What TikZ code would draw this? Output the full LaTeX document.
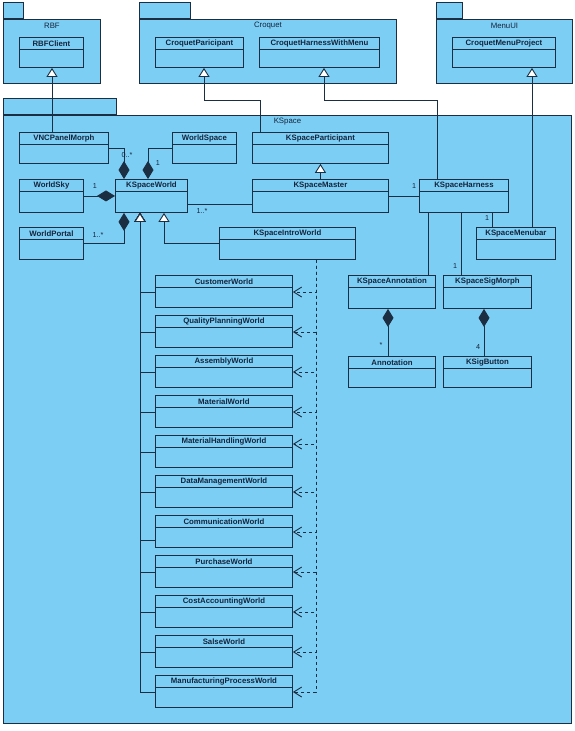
\documentclass[tikz,border=0pt]{standalone}
\usepackage{fontspec}
\setmainfont{Liberation Sans}
\usetikzlibrary{arrows.meta}
\definecolor{umlfill}{RGB}{125,206,244}
\definecolor{umlline}{RGB}{28,46,66}
\definecolor{umltext}{RGB}{20,36,60}
\tikzset{
  pkgbox/.style={draw=umlline, fill=umlfill, line width=0.9pt, inner sep=0pt, anchor=north west},
  clsbox/.style={draw=umlline, fill=umlfill, line width=0.9pt, inner sep=0pt, anchor=north west},
  clslabel/.style={font=\fontsize{7.8}{9}\selectfont\bfseries, text=umltext, inner sep=0pt},
  pkglabel/.style={font=\fontsize{7.8}{9}\selectfont, text=umltext, inner sep=0pt},
  mult/.style={font=\fontsize{7.2}{8}\selectfont, text=umltext, inner sep=0pt},
  conn/.style={draw=umlline, line width=0.9pt},
  gen/.style={conn, -{Triangle[open, length=9pt, width=11pt, fill=white]}},
  comp/.style={conn, {Diamond[length=18pt, width=11pt, fill=umlline]}-},
  dep/.style={conn, dash pattern=on 3.5pt off 2.5pt, -{Straight Barb[length=8pt, width=10pt]}},
}
\newcommand\umlclass[6]{%
  \node[clsbox, minimum width=#4pt, minimum height=#5pt] (#1) at (#2,#3) {};
  \draw[conn] ([yshift=-12.5pt]#1.north west) -- ([yshift=-12.5pt]#1.north east);
  \node[clslabel] (#1-t) at ([yshift=-6.6pt]#1.north) {#6};
}
\newcommand\umlpkg[8]{% name, x, y, w, h, tabw, text, tabname
  \node[pkgbox, minimum width=#6pt, minimum height=16pt, anchor=south west] (#8) at (#2,#3) {};
  \node[pkgbox, minimum width=#4pt, minimum height=#5pt] (#1) at (#2,#3) {};
  \node[pkglabel] (#1-t) at ([yshift=-7pt]#1.north) {#7};
}
\begin{document}
\begin{tikzpicture}[x=1pt, y=-1pt]
\useasboundingbox (0,0) rectangle (575,731);
% packages
\umlpkg{rbf}{3}{19}{97}{64}{20}{RBF}{rbftab}
\umlpkg{croq}{139}{19}{257}{64}{51}{Croquet}{croqtab}
\umlpkg{menu}{436}{19}{136}{64}{26}{MenuUI}{menutab}
\umlpkg{ks}{3}{115}{568}{608}{113}{KSpace}{kstab}
% classes in packages
\umlclass{rbfc}{19}{37}{64}{30}{RBFClient}
\umlclass{cpart}{155}{37}{88}{30}{CroquetParicipant}
\umlclass{chwm}{259}{37}{120}{30}{CroquetHarnessWithMenu}
\umlclass{cmp}{452}{37}{103}{30}{CroquetMenuProject}
% KSpace classes
\umlclass{vnc}{19}{132}{89}{31}{VNCPanelMorph}
\umlclass{wspace}{172}{132}{64}{31}{WorldSpace}
\umlclass{kpart}{252}{132}{136}{31}{KSpaceParticipant}
\umlclass{wsky}{19}{179}{64}{33}{WorldSky}
\umlclass{kw}{115}{179}{72}{33}{KSpaceWorld}
\umlclass{kmaster}{252}{179}{136}{33}{KSpaceMaster}
\umlclass{kharn}{419}{179}{89}{33}{KSpaceHarness}
\umlclass{wportal}{19}{227}{64}{32}{WorldPortal}
\umlclass{kintro}{219}{227}{136}{32}{KSpaceIntroWorld}
\umlclass{kmenu}{476}{227}{79}{32}{KSpaceMenubar}
\umlclass{kann}{348}{275}{87}{33}{KSpaceAnnotation}
\umlclass{ksig}{443}{275}{88}{33}{KSpaceSigMorph}
\umlclass{ann}{348}{356}{87}{31}{Annotation}
\umlclass{kbtn}{443}{356}{88}{31}{KSigButton}
% world list
\umlclass{w1}{155}{275}{137}{32}{CustomerWorld}
\umlclass{w2}{155}{315}{137}{32}{QualityPlanningWorld}
\umlclass{w3}{155}{355}{137}{32}{AssemblyWorld}
\umlclass{w4}{155}{395}{137}{32}{MaterialWorld}
\umlclass{w5}{155}{435}{137}{32}{MaterialHandlingWorld}
\umlclass{w6}{155}{475}{137}{32}{DataManagementWorld}
\umlclass{w7}{155}{515}{137}{32}{CommunicationWorld}
\umlclass{w8}{155}{555}{137}{32}{PurchaseWorld}
\umlclass{w9}{155}{595}{137}{32}{CostAccountingWorld}
\umlclass{w10}{155}{635}{137}{32}{SalseWorld}
\umlclass{w11}{155}{675}{137}{32}{ManufacturingProcessWorld}
% generalizations to outer packages
\draw[gen] ([xshift=33pt]vnc.north west) -- ([xshift=33pt]rbfc.south west);
\draw[gen] ([xshift=8pt]kpart.north west) -- ++(0,-32) -| ([xshift=49pt]cpart.south west);
\draw[gen] ([xshift=18pt]kharn.north west) -- ++(0,-79) -| ([xshift=65pt]chwm.south west);
\draw[gen] ([xshift=56pt]kmenu.north west) -- ([xshift=80pt]cmp.south west);
\draw[gen] (kmaster.north -| kpart.south) -- (kpart.south);
% compositions around KSpaceWorld
\draw[comp] ([xshift=9pt]kw.north west) |- (vnc.east);
\draw[comp] ([xshift=33pt]kw.north west) |- (wspace.west);
\draw[comp] (kw.west) -- (wsky.east);
\draw[comp] ([xshift=9pt]kw.south west) |- (wportal.east);
% associations
\draw[conn] ([yshift=-25pt]kw.north east) -- ([yshift=-25pt]kmaster.north west);
\draw[conn] (kmaster.east) -- (kharn.west);
\draw[conn] ([xshift=73pt]kharn.south west) -- ([xshift=16pt]kmenu.north west);
\draw[conn] ([xshift=9pt]kharn.south west) -- ([xshift=80pt]kann.north west);
\draw[conn] ([xshift=42pt]kharn.south west) -- ([xshift=18pt]ksig.north west);
\draw[comp] ([xshift=40pt]kann.south west) -- ([xshift=40pt]ann.north west);
\draw[comp] ([xshift=41pt]ksig.south west) -- ([xshift=41pt]kbtn.north west);
% KSpaceIntroWorld generalization
\draw[gen] (kintro.west) -| ([xshift=49pt]kw.south west);
% world generalizations
\foreach \w/\o in {w1/17,w2/17,w3/17,w4/17,w5/17,w6/17,w7/25,w8/17,w9/17,w10/17,w11/17}{
  \draw[gen] ([yshift=-\o pt]\w.north west) -| ([xshift=25pt]kw.south west);
}
% world dependencies
\foreach \w/\o in {w1/17,w2/17,w3/17,w4/17,w5/9,w6/17,w7/17,w8/17,w9/17,w10/17,w11/17}{
  \draw[dep] ([xshift=97pt]kintro.south west) |- ([yshift=-\o pt]\w.north east);
}
% multiplicities
\node[mult] (m1) at (127,155) {0..*};
\node[mult] (m2) at (158,163) {1};
\node[mult] (m3) at (95,186) {1};
\node[mult] (m4) at (98,235) {1..*};
\node[mult] (m5) at (202,211) {1..*};
\node[mult] (m6) at (414,186) {1};
\node[mult] (m7) at (487,218) {1};
\node[mult] (m8) at (455,266) {1};
\node[mult] (m9) at (381,345) {*};
\node[mult] (m10) at (478,347) {4};
\end{tikzpicture}
\end{document}
